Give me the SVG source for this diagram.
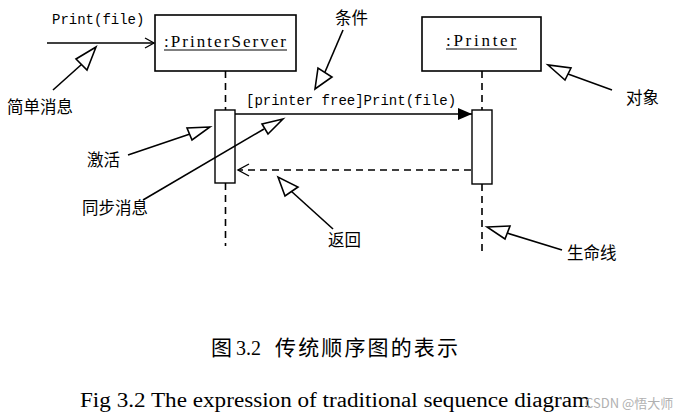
<svg xmlns="http://www.w3.org/2000/svg" width="677" height="419" viewBox="0 0 677 419">
<defs>
<marker id="open" markerWidth="12" markerHeight="12" refX="10" refY="6" orient="auto" markerUnits="userSpaceOnUse">
<path d="M1,1 L10,6 L1,11" fill="none" stroke="#000" stroke-width="1.3"/>
</marker>
<marker id="filled" markerWidth="16" markerHeight="12" refX="14" refY="6" orient="auto" markerUnits="userSpaceOnUse">
<path d="M0,0 L14,6 L0,12 Z" fill="#000"/>
</marker>
</defs>
<style>
.box{fill:#fff;stroke:#000;stroke-width:1.6}
.act{fill:#fff;stroke:#000;stroke-width:1.4}
.life{stroke:#000;stroke-width:1.6;stroke-dasharray:7 5;fill:none}
.msg{stroke:#000;stroke-width:1.5;fill:none}
.ptr{stroke:#000;stroke-width:1.6;fill:none}
.tri{fill:#fff;stroke:#000;stroke-width:1.6;stroke-linejoin:miter}
.obj{font-family:"Liberation Serif",serif;font-size:17px}
.ul{stroke:#000;stroke-width:1}
.mono{font-family:"Liberation Mono",monospace;font-size:14px}
.cn{font-family:"Noto Sans CJK SC",sans-serif;font-size:16.5px}
.cap{font-family:"Liberation Serif","Noto Sans CJK SC",serif;font-size:20px}
.capcn{font-family:"Noto Sans CJK SC",serif;font-size:21px}
</style>
<rect width="677" height="419" fill="#fff"/>
<g id="printerServer">
<rect class="box" x="155" y="15" width="141" height="56"/>
<text class="obj" x="164" y="47" textLength="122" lengthAdjust="spacing">:PrinterServer</text>
<line class="ul" x1="164" y1="50" x2="287" y2="50"/>
</g>
<g id="printer">
<rect class="box" x="422" y="17" width="119" height="54"/>
<text class="obj" x="446" y="46" textLength="70" lengthAdjust="spacing">:Printer</text>
<line class="ul" x1="446" y1="49" x2="517" y2="49"/>
</g>
<g id="connectors">
<line class="life" x1="225.5" y1="71" x2="225.5" y2="110"/>
<line class="life" x1="225.5" y1="183" x2="225.5" y2="246"/>
<line class="life" x1="482" y1="71" x2="482" y2="110"/>
<line class="life" x1="482" y1="184" x2="482" y2="251"/>
<line class="msg" x1="47" y1="43" x2="154" y2="43" marker-end="url(#open)"/>
<text class="mono" x="52" y="24">Print(file)</text>
<line class="msg" x1="235" y1="114" x2="472" y2="114" marker-end="url(#filled)"/>
<text class="mono" x="246" y="105">[printer free]Print(file)</text>
<line class="life" x1="471" y1="170" x2="238" y2="170" style="stroke-width:1.5"/>
<path d="M249,164 L238,170 L249,176" fill="none" stroke="#000" stroke-width="1.4"/>
</g>
<g id="activationServer">
<rect class="act" x="215" y="110" width="20" height="73"/>
</g>
<g id="activationPrinter">
<rect class="act" x="472" y="110" width="20" height="74"/>
</g>
<g id="note-simple">
<line class="ptr" x1="53" y1="90" x2="82" y2="64"/>
<polygon class="tri" points="96,47 76,59 87,70"/>
<text class="cn" x="7" y="113">简单消息</text>
</g>
<g id="note-condition">
<line class="ptr" x1="343" y1="30" x2="325" y2="72"/>
<polygon class="tri" points="315,89 318,68 332,77"/>
<text class="cn" x="335" y="24">条件</text>
</g>
<g id="note-object">
<line class="ptr" x1="612" y1="90" x2="568" y2="74"/>
<polygon class="tri" points="548,65 565,80 571,68"/>
<text class="cn" x="626" y="104">对象</text>
</g>
<g id="note-activation">
<line class="ptr" x1="128" y1="155" x2="190" y2="134"/>
<polygon class="tri" points="210,127 187,128 192,140"/>
<text class="cn" x="87" y="166">激活</text>
</g>
<g id="note-sync">
<line class="ptr" x1="143" y1="200" x2="264" y2="129"/>
<polygon class="tri" points="283,119 262,124 268,134"/>
<text class="cn" x="82" y="214">同步消息</text>
</g>
<g id="note-return">
<line class="ptr" x1="333" y1="229" x2="291" y2="191"/>
<polygon class="tri" points="278,177 285,196 298,187"/>
<text class="cn" x="328" y="246">返回</text>
</g>
<g id="note-lifeline">
<line class="ptr" x1="562" y1="250" x2="507" y2="233"/>
<polygon class="tri" points="487,227 510,226 505,239"/>
<text class="cn" x="567" y="259">生命线</text>
</g>
<text class="capcn" x="211" y="355">图</text>
<text class="cap" x="236" y="355">3.2</text>
<text class="capcn" x="275" y="355" textLength="183" lengthAdjust="spacing">传统顺序图的表示</text>
<text class="cap" x="80" y="407" textLength="510" lengthAdjust="spacingAndGlyphs">Fig 3.2 The expression of traditional sequence diagram</text>
<text x="585" y="408" style="font-family:'Noto Sans CJK SC',sans-serif;font-size:13px;fill:#b0b0b0">CSDN @悟大师</text>
</svg>
